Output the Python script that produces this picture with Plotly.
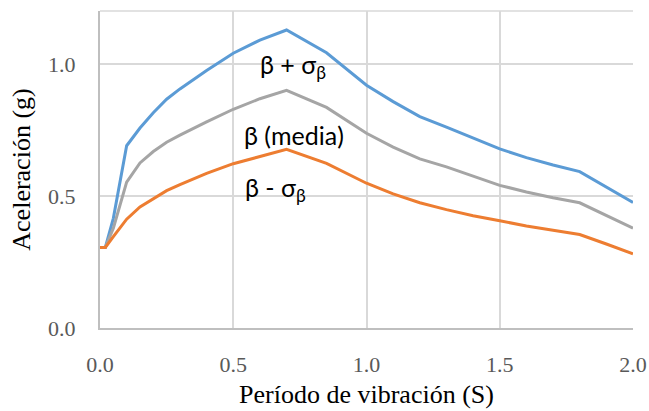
import plotly.graph_objects as go

# periodo (s)
periodo = [0.0, 0.02, 0.05, 0.1, 0.15, 0.2, 0.25, 0.3, 0.4, 0.5, 0.6, 0.7,
           0.85, 1.0, 1.1, 1.2, 1.3, 1.4, 1.5, 1.6, 1.7, 1.8, 1.9, 2.0]

# beta + sigma
sup = [0.305, 0.305, 0.415, 0.69, 0.757, 0.815, 0.866, 0.905, 0.975, 1.04, 1.09, 1.128,
       1.042, 0.919, 0.857, 0.80, 0.76, 0.72, 0.678, 0.645, 0.617, 0.592, 0.533, 0.475]
# beta (media)
media = [0.305, 0.305, 0.378, 0.552, 0.625, 0.668, 0.703, 0.73, 0.78, 0.828, 0.868, 0.90,
         0.835, 0.737, 0.685, 0.64, 0.61, 0.575, 0.54, 0.515, 0.493, 0.474, 0.426, 0.378]
# beta - sigma
inf = [0.305, 0.305, 0.346, 0.412, 0.458, 0.49, 0.52, 0.543, 0.585, 0.622, 0.65, 0.676,
       0.623, 0.548, 0.508, 0.474, 0.448, 0.425, 0.406, 0.386, 0.37, 0.354, 0.318, 0.281]

series = [('β + σβ', sup, '#5b9bd5'),
          ('β (media)', media, '#a5a5a5'),
          ('β - σβ', inf, '#ed7d31')]

etiquetas = ['β + σ<sub>β</sub>', 'β (media)', 'β - σ<sub>β</sub>']
etiq_x = [0.724, 0.728, 0.66]
etiq_y = [0.99, 0.73, 0.525]

serif = 'Liberation Serif'

fig = go.Figure()
for nombre, vals, color in series:
    fig.add_trace(go.Scatter(x=periodo, y=vals, mode='lines', name=nombre,
                             line=dict(color=color, width=3)))

for t, xx, yy in zip(etiquetas, etiq_x, etiq_y):
    fig.add_annotation(x=xx, y=yy, text=t, showarrow=False,
                       font=dict(family='Lato', size=25, color='black'))

# borde superior del area de trazado
fig.add_shape(type='line', xref='paper', yref='paper', x0=0, x1=1, y0=1, y1=1,
              line=dict(color='#d9d9d9', width=1.5))

fig.update_layout(
    width=649, height=411,
    margin=dict(l=100, r=16, t=11, b=83),
    plot_bgcolor='white', paper_bgcolor='white',
    showlegend=False,
    font=dict(family=serif, color='#595959', size=22),
    xaxis=dict(
        range=[0, 2.0], tickvals=[0, 0.5, 1.0, 1.5, 2.0], tickformat='.1f',
        tickfont=dict(family=serif, size=22, color='#595959'),
        ticklabeloverflow='allow', automargin=False,
        showgrid=True, gridcolor='#d9d9d9', gridwidth=1.5,
        showline=True, linecolor='#bfbfbf', linewidth=2,
        zeroline=False, ticklabelstandoff=16,
        title=dict(text='Período de vibración (S)', standoff=8,
                   font=dict(family=serif, size=26, color='black'))),
    yaxis=dict(
        range=[0, 1.2], tickvals=[0, 0.5, 1.0], tickformat='.1f',
        tickfont=dict(family=serif, size=22, color='#595959'),
        automargin=False,
        showgrid=True, gridcolor='#d9d9d9', gridwidth=1.5,
        showline=True, linecolor='#bfbfbf', linewidth=2,
        zeroline=False, ticklabelstandoff=18,
        title=dict(text='Aceleración (g)', standoff=10,
                   font=dict(family=serif, size=26, color='black'))),
)

# quitar el margen del body para que el grafico empiece en (0, 0)
fig.write_html("out.html", config={'displayModeBar': False},
               post_script="document.body.style.margin='0px';")
